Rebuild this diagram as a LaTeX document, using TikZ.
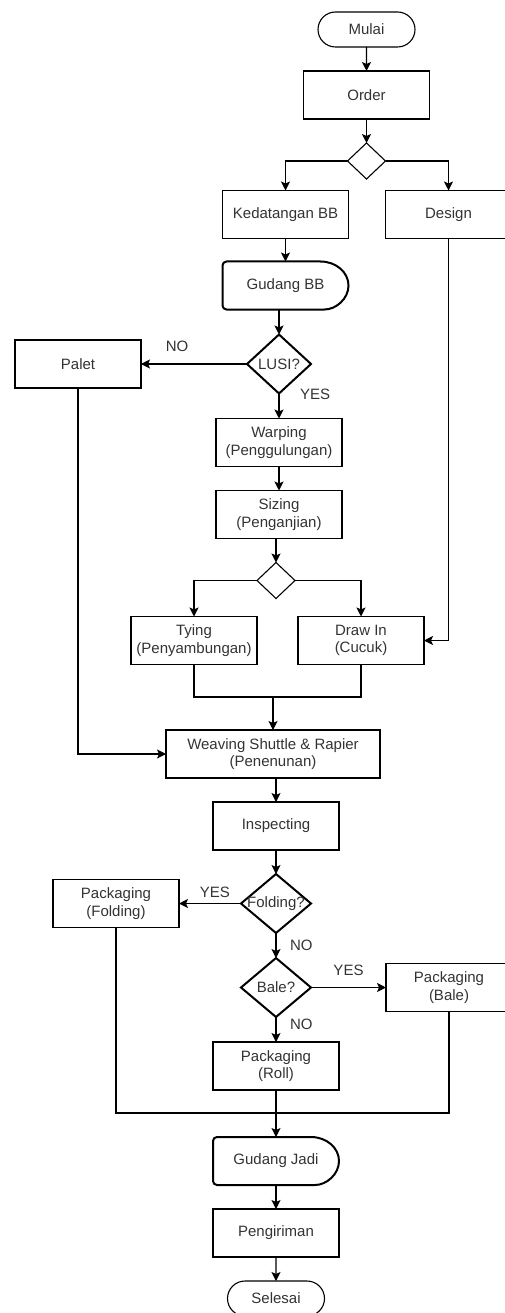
\documentclass[tikz,border=0pt]{standalone}
\usepackage{fontspec}
\setmainfont{Liberation Sans}
\usepackage{tikz}
\usetikzlibrary{positioning, arrows.meta, shapes.geometric, shapes.misc, calc}

% outline of a storage (delay) box drawn round a plain node
\newcommand{\delayoutline}[1]{%
  \draw[line width=2pt, rounded corners=4pt] ([xshift=-28pt]#1.north east) -- (#1.north west)
    -- (#1.south west) -- ([xshift=-28pt]#1.south east) [sharp corners]
    arc[start angle=-90, end angle=90, x radius=28pt, y radius=24pt] -- cycle;}

\begin{document}
\begin{tikzpicture}[
    x=1pt, y=1pt,
    every node/.style={font=\fontsize{15}{17.5}\selectfont, text=black!80, outer sep=0pt},
    proc/.style={rectangle, draw, line width=1.1pt, align=center, inner sep=2pt, minimum width=126pt, minimum height=48pt},
    wide/.style={proc, minimum width=214pt},
    term/.style={rounded rectangle, draw, line width=1.1pt, inner sep=2pt, minimum width=101pt, minimum height=35pt},
    store/.style={rectangle, align=center, inner sep=2pt, minimum width=126pt, minimum height=48pt},
    split/.style={diamond, draw, line width=1.1pt, inner sep=0pt, minimum width=38pt, minimum height=36pt},
    decide/.style={diamond, draw, line width=2pt, inner sep=0pt, minimum width=#1, minimum height=59pt},
    decide/.default=70pt,
    wire/.style={line width=1.1pt},
    arr/.style={wire, -{Stealth[length=9pt, width=9pt, inset=2pt]}},
    lbl/.style={inner sep=1pt},
]
\useasboundingbox (0,0) rectangle (505,-1313);
\clip (0,0) rectangle (505,-1313);

% ---------- start ----------
\node[term] (mulai) at (366.5,-29.5) {Mulai};
\node[proc, below=24pt of mulai] (order) {Order};
\node[split, below=24pt of order] (fork1) {};

% ---------- raw material and design ----------
\node[proc] (kbb) at (285.5,-214.5) {Kedatangan BB};
\node[proc] (design) at (448.5,-214.5) {Design};
\node[store, below=23pt of kbb] (gbb) {Gudang BB};
\delayoutline{gbb}
\node[decide=64pt, below=25pt of gbb, xshift=-6.5pt, label={[name=lusitxt]center:LUSI?}] (lusi) {};
\node[proc, left=106pt of lusi] (palet) {Palet};

% ---------- warp preparation ----------
\node[proc, below=25pt of lusi] (warping) {Warping\\(Penggulungan)};
\node[proc, below=24pt of warping] (sizing) {Sizing\\(Penganjian)};
\node[split, below=24pt of sizing, xshift=-3pt] (fork2) {};
\node[proc] (tying) at (194,-640.5) {Tying\\(Penyambungan)};
\node[proc] (drawin) at (361,-640.5) {Draw In\\(Cucuk)};

% ---------- weaving and finishing ----------
\node[wide] (weaving) at (273,-754) {Weaving Shuttle \& Rapier\\(Penenunan)};
\node[proc, below=24pt of weaving, xshift=3pt] (inspect) {Inspecting};
\node[decide, below=24pt of inspect, label={[name=foldtxt]center:Folding?}] (folding) {};
\node[proc, left=62pt of folding] (pfold) {Packaging\\(Folding)};
\node[decide, below=25pt of folding, label={[name=baletxt]center:Bale?}] (bale) {};
\node[proc, right=75pt of bale] (pbale) {Packaging\\(Bale)};
\node[proc, below=25pt of bale] (proll) {Packaging\\(Roll)};
\node[store, below=47pt of proll] (gjadi) {Gudang Jadi};
\delayoutline{gjadi}
\node[proc, below=24pt of gjadi] (kirim) {Pengiriman};
\node[term, below=24pt of kirim] (selesai) {Selesai};

% ---------- connectors ----------
\draw[arr] (mulai) -- (order);
\draw[arr] (order) -- (fork1);
\draw[arr] (fork1.west) -| (kbb.north);
\draw[arr] (fork1.east) -| (design.north);
\draw[arr] (kbb) -- (gbb);
\draw[arr] (gbb.south -| lusi.north) -- (lusi.north);
\draw[arr] (lusi.west) -- (palet.east) node[lbl, above=11pt, pos=0.66] (lusino) {NO};
\draw[arr] (lusi.south) -- (warping.north) node[lbl, right=20pt, pos=0.05] (lusiyes) {YES};
\draw[arr] (warping) -- (sizing);
\draw[arr] (sizing.south -| fork2.north) -- (fork2.north);
\draw[arr] (fork2.west) -| (tying.north);
\draw[arr] (fork2.east) -| (drawin.north);
\draw[arr] (design.south) |- (drawin.east);

% merge of tying and draw in
\coordinate[above=33pt of weaving] (join1);
\draw[wire] (tying.south) |- (join1) -| (drawin.south);
\draw[arr] (join1) -- (weaving.north);
\draw[arr] (palet.south) |- (weaving.west);

\draw[arr] (weaving.south -| inspect.north) -- (inspect.north);
\draw[arr] (inspect) -- (folding);
\draw[arr] (folding.west) -- (pfold.east) node[lbl, above=5pt, pos=0.42] (foldyes) {YES};
\draw[arr] (folding.south) -- (bale.north) node[lbl, right=13pt, midway] (foldno) {NO};
\draw[arr] (bale.east) -- (pbale.west) node[lbl, above=11pt, midway] (baleyes) {YES};
\draw[arr] (bale.south) -- (proll.north) node[lbl, right=13pt, pos=0.28] (baleno) {NO};

% merge of the three packagings
\coordinate[above=24pt of gjadi] (join2);
\draw[wire] (pfold.south) |- (join2) -| (pbale.south);
\draw[arr] (proll) -- (gjadi);
\draw[arr] (gjadi) -- (kirim);
\draw[arr] (kirim) -- (selesai);

\end{tikzpicture}
\end{document}
